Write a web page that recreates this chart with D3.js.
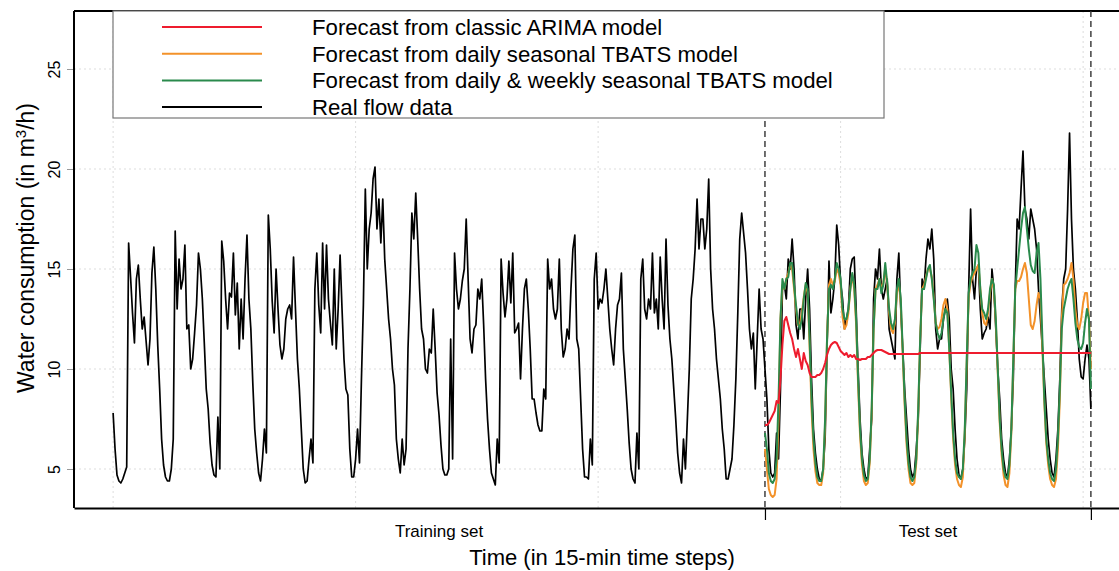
<!DOCTYPE html>
<html><head><meta charset="utf-8">
<script src="https://cdn.jsdelivr.net/npm/d3@7"></script>
<style>
body{margin:0;background:#fff}
svg{display:block}
text{font-family:"Liberation Sans",Arial,Helvetica,sans-serif;fill:#000}
</style>
</head><body>
<svg id="chart" width="1119" height="571"></svg>
<script>
// one sample per hour = 4 time steps of 15 min
const stepsPerSample = 4;

// Real flow, training period (hours 0..335)
const trainingFlow = [
 7.8,6.0,4.7,4.4,4.3,4.5,4.8,5.1,16.3,14.6,12.8,11.3,14.5,15.2,13.5,12.0,12.6,11.4,10.2,11.5,14.8,16.1,14.0,11.2,
 9.0,6.5,5.2,4.6,4.4,4.4,5.0,6.5,16.9,13.0,15.5,14.0,14.5,16.2,12.0,12.2,10.0,10.5,11.8,13.2,15.8,15.0,13.5,11.3,
 9.0,8.0,6.3,5.2,4.7,4.6,7.6,5.0,16.4,15.4,13.5,12.0,13.8,13.6,15.8,12.7,14.3,11.0,13.5,11.5,14.5,16.7,13.5,12.0,
 9.3,7.0,5.8,4.8,4.4,5.5,7.0,5.8,17.7,16.0,13.4,11.8,15.0,13.0,11.2,10.5,11.0,12.5,13.0,13.2,12.5,15.6,13.0,10.5,
 9.0,7.0,5.0,4.3,4.4,5.5,6.5,5.3,14.0,15.8,13.2,11.8,16.3,13.0,16.2,13.5,12.3,11.2,15.0,11.0,13.0,15.7,13.0,10.5,
 9.0,8.7,6.0,4.6,4.6,5.5,7.0,5.3,9.5,13.2,19.0,15.0,17.0,17.8,19.5,20.1,17.0,18.5,16.3,18.5,15.5,14.0,12.5,11.5,
 10.0,9.2,6.5,5.5,4.8,6.5,5.2,6.0,11.0,14.0,17.8,16.5,18.8,16.5,14.0,12.0,11.5,10.0,9.8,11.0,10.8,13.0,11.0,8.8,
 7.7,6.2,5.0,4.7,4.7,5.0,11.5,5.5,15.8,14.0,13.0,13.5,14.4,15.0,17.5,14.5,11.5,10.8,12.0,12.2,14.0,13.5,14.5,12.2,
 9.5,7.5,6.0,4.8,4.5,4.2,6.5,5.3,15.5,13.8,12.6,13.5,15.4,13.3,15.8,11.8,12.0,12.3,9.5,12.0,14.0,14.5,13.0,11.0,
 8.5,8.5,7.8,7.2,6.9,6.9,9.0,8.5,15.5,14.0,14.5,13.0,12.5,13.0,15.5,12.0,10.6,11.0,12.0,11.5,14.0,16.0,16.7,11.5,
 11.0,8.5,6.0,4.6,4.6,4.5,6.5,5.2,14.5,15.8,13.0,13.5,13.3,14.0,15.0,13.5,12.0,11.0,10.2,12.0,13.2,13.5,14.8,11.0,
 9.5,8.0,6.3,5.0,4.5,4.3,6.8,5.0,14.5,15.5,13.0,12.5,13.5,13.0,15.8,12.8,13.5,12.0,15.6,13.5,12.0,16.5,13.2,11.5,
 10.5,9.0,7.5,5.8,4.8,4.3,6.5,5.0,7.5,10.0,13.5,14.5,16.0,18.5,16.0,17.5,17.5,16.0,17.0,19.5,15.0,13.0,12.0,10.5,
 9.5,8.5,7.0,6.0,4.5,4.5,5.0,5.5,7.2,9.5,12.8,16.5,17.8,16.8,15.8,14.0,12.0,11.0,11.8,9.0,11.5,14.0,12.0,11.5
];

// Test period starts at hour 336 (time step 1344)
const testStartHour = 336;

// Real flow, test period (hours 336..504)
const testFlow = [
 10.0,8.5,6.0,4.8,4.6,4.8,6.8,5.5,
 9.0,14.0,14.2,13.5,15.5,15.0,16.5,15.0,12.2,11.5,13.0,13.0,11.5,13.5,15.0,13.0,9.5,7.0,5.8,5.0,4.5,4.4,5.0,6.5,
 11.0,15.4,12.8,13.5,14.5,17.2,16.2,14.3,13.5,12.0,12.5,13.0,15.0,15.5,15.6,13.0,10.0,7.5,5.8,5.0,4.5,4.6,6.0,7.5,
 13.5,15.0,14.5,16.0,14.0,13.5,14.0,14.5,12.0,11.5,11.0,10.5,14.5,15.8,13.0,11.0,9.0,7.5,6.0,5.0,4.6,4.8,6.0,7.5,
 11.0,14.5,14.0,15.5,16.5,16.0,17.0,15.5,12.0,11.0,11.5,11.5,12.5,13.0,13.5,12.5,10.0,9.0,7.0,5.5,4.7,4.5,5.0,6.5,
 9.0,14.0,18.0,14.5,13.5,15.0,15.2,13.0,11.5,11.8,12.0,12.6,12.0,15.0,14.0,12.0,10.0,8.5,6.5,5.5,4.8,4.6,5.5,7.0,
 9.5,14.0,17.5,17.0,19.0,20.9,18.0,17.5,16.5,18.0,17.5,17.0,16.0,14.0,12.5,11.0,9.5,8.0,6.5,5.5,4.8,4.6,5.5,7.0,
 9.5,13.0,14.5,15.0,18.0,21.8,17.5,15.0,14.0,12.5,10.5,9.6,9.5,10.5,11.2,10.5,8.0
];

// Forecast from classic ARIMA model (hours 336..504)
const arimaForecast = [
 7.2,7.2,7.3,7.5,7.7,7.9,8.4,8.3,
 9.5,11.2,12.4,12.6,12.2,11.8,11.5,11.0,10.6,11.0,10.5,10.0,10.8,10.4,10.2,9.8,9.6,9.6,9.6,9.7,9.7,9.8,10.0,10.3,
 10.7,11.0,11.2,11.3,11.35,11.3,11.1,10.9,10.8,10.7,10.8,10.6,10.7,10.6,10.7,10.5,10.5,10.45,10.5,10.5,10.5,10.6,10.6,10.7,
 10.8,10.9,10.95,10.95,10.95,10.9,10.85,10.8,10.75,10.75,10.75,10.75,10.75,10.75,10.75,10.75,10.75,10.75,10.75,10.75,10.75,10.75,10.75,10.75,
 10.8,10.8,10.8,10.8,10.8,10.8,10.8,10.8,10.8,10.8,10.8,10.8,10.8,10.8,10.8,10.8,10.8,10.8,10.8,10.8,10.8,10.8,10.8,10.8,
 10.8,10.8,10.8,10.8,10.8,10.8,10.8,10.8,10.8,10.8,10.8,10.8,10.8,10.8,10.8,10.8,10.8,10.8,10.8,10.8,10.8,10.8,10.8,10.8,
 10.8,10.8,10.8,10.8,10.8,10.8,10.8,10.8,10.8,10.8,10.8,10.8,10.8,10.8,10.8,10.8,10.8,10.8,10.8,10.8,10.8,10.8,10.8,10.8,
 10.8,10.8,10.8,10.8,10.8,10.8,10.8,10.8,10.8,10.8,10.8,10.8,10.8,10.8,10.8,10.8,10.8
];

// Forecast from daily seasonal TBATS model (hours 336..504)
const tbatsDailyForecast = [
 6.0,5.0,4.0,3.7,3.6,3.7,4.5,7.5,
 12.5,14.2,14.0,14.5,14.8,15.2,15.0,14.0,13.0,12.2,12.2,12.8,13.6,14.2,13.8,11.2,8.0,6.0,4.9,4.3,4.2,4.2,4.8,7.2,
 11.5,14.2,14.5,14.2,14.4,15.0,14.8,14.2,12.6,12.0,12.2,12.8,14.0,14.7,14.0,12.2,9.2,6.7,5.2,4.4,4.2,4.3,5.3,7.8,
 12.0,14.0,14.2,14.5,14.0,14.3,15.0,14.2,12.8,12.0,11.8,12.3,13.8,14.3,13.3,10.8,8.2,6.2,5.0,4.3,4.2,4.3,5.3,7.8,
 11.5,14.0,14.2,14.6,15.0,15.0,14.6,13.6,12.3,12.0,12.1,12.5,13.2,13.5,13.0,11.0,8.6,6.5,5.2,4.5,4.2,4.1,4.6,6.8,
 10.3,13.6,14.3,14.6,14.8,15.0,15.2,14.0,12.8,12.3,12.2,12.8,13.8,14.5,14.0,12.3,9.8,7.3,5.7,4.7,4.2,4.1,4.8,6.8,
 10.3,14.0,14.4,14.4,14.6,15.0,15.3,14.8,13.5,12.2,12.0,12.4,13.2,13.8,13.5,11.0,8.3,6.3,5.2,4.5,4.2,4.1,4.5,6.0,
 8.5,12.5,14.2,14.3,14.5,14.8,15.3,14.5,13.0,12.2,12.0,12.5,13.3,13.8,13.8,12.5,10.0
];

// Forecast from daily & weekly seasonal TBATS model (hours 336..504)
const tbatsWeeklyForecast = [
 6.8,6.0,4.8,4.4,4.3,4.5,5.5,8.5,
 12.5,14.5,14.0,14.5,14.6,15.3,15.3,14.2,13.2,12.3,12.0,12.5,13.5,14.3,14.0,11.5,8.5,6.5,5.3,4.6,4.4,4.4,5.0,7.5,
 11.5,14.0,14.2,14.0,14.5,15.3,15.0,14.5,13.0,12.5,12.5,13.0,14.0,14.8,14.2,12.5,9.5,7.0,5.5,4.7,4.4,4.5,5.5,8.0,
 12.0,14.0,14.0,14.5,13.8,14.2,15.3,14.3,13.0,12.3,12.0,12.5,14.0,14.5,13.5,11.0,8.5,6.5,5.3,4.6,4.4,4.6,5.5,8.0,
 11.5,14.0,14.0,14.5,15.0,15.2,14.5,13.5,12.3,11.8,11.5,11.8,12.5,13.0,12.8,11.0,8.8,6.8,5.5,4.8,4.6,4.5,5.0,7.0,
 10.5,13.8,14.5,14.8,15.0,16.2,15.8,14.0,13.0,12.8,12.5,13.0,14.0,14.5,14.2,12.5,10.0,7.5,6.0,5.0,4.6,4.5,5.2,7.0,
 10.5,14.0,15.0,16.0,17.0,17.8,18.1,17.0,16.0,15.2,14.9,14.8,15.8,16.3,14.5,11.5,8.5,6.5,5.5,4.8,4.5,4.4,5.0,6.5,
 9.0,12.0,13.0,13.5,14.0,14.3,14.5,13.5,12.3,11.5,11.1,11.0,11.3,12.3,13.0,12.5,9.0
];

const yTicks = [5, 10, 15, 20, 25];
const xGridSteps = [0, 500, 1000, 1500, 2000];
const splitSteps = [1344, 2016];
const setLabels = ["Training set", "Test set"];
const setLabelSteps = [672, 1680];
const legendLabels = [
  "Forecast from classic ARIMA model",
  "Forecast from daily seasonal TBATS model",
  "Forecast from daily & weekly seasonal TBATS model",
  "Real flow data"
];
const legendColors = ["#ee1c2e", "#f3922a", "#2a8a4c", "#000000"];

// ---------------------------------------------------------------
const svg = d3.select("#chart");
const L = 74, R = 1130, T = 11, B = 508;
const x = d3.scaleLinear().domain([-80.64, 2096.64]).range([L, R]);
const y = d3.scaleLinear().domain([3.05, 27.9]).range([B, T]);

svg.append("defs").append("clipPath").attr("id", "clip")
  .append("rect").attr("x", L).attr("y", T).attr("width", R - L).attr("height", B - T);

// grid
const grid = svg.append("g");
grid.selectAll("line.h").data(yTicks).join("line")
  .attr("x1", L).attr("x2", R).attr("y1", d => y(d)).attr("y2", d => y(d))
  .attr("stroke", "#dddddd").attr("stroke-width", 1).attr("stroke-dasharray", "2,3");
grid.selectAll("line.v").data(xGridSteps).join("line")
  .attr("x1", d => x(d)).attr("x2", d => x(d)).attr("y1", T).attr("y2", B)
  .attr("stroke", "#dddddd").attr("stroke-width", 1).attr("stroke-dasharray", "2,3");

// y axis
const yAxis = svg.append("g").attr("transform", `translate(${L},0)`)
  .call(d3.axisLeft(y).tickValues(yTicks).tickSize(7).tickSizeOuter(0));
yAxis.select(".domain").remove();
yAxis.selectAll(".tick line").attr("stroke", "#999");
yAxis.selectAll(".tick text")
  .attr("x", 0).attr("dy", 0)
  .attr("transform", "translate(-14,0) rotate(-90)")
  .attr("text-anchor", "middle")
  .style("font-size", "16px").style("font-family", "'Liberation Sans',Arial,sans-serif")
  .attr("fill", "#000");

// x axis
const xAxis = svg.append("g").attr("transform", `translate(0,${B})`)
  .call(d3.axisBottom(x).tickValues(splitSteps).tickSize(12).tickSizeOuter(0).tickFormat(""));
xAxis.select(".domain").attr("stroke", "#000").attr("stroke-width", 2);
xAxis.selectAll(".tick line").attr("stroke", "#000").attr("stroke-width", 1.2);

svg.append("g").selectAll("text").data(setLabels).join("text")
  .attr("x", (d, i) => x(setLabelSteps[i])).attr("y", 537)
  .attr("text-anchor", "middle").style("font-size", "17px").text(d => d);

// box top & left
svg.append("line").attr("x1", L).attr("x2", R).attr("y1", T).attr("y2", T)
  .attr("stroke", "#000").attr("stroke-width", 2);
svg.append("line").attr("x1", L).attr("x2", L).attr("y1", T).attr("y2", B)
  .attr("stroke", "#000").attr("stroke-width", 2);

// dashed split lines
svg.append("g").selectAll("line").data(splitSteps).join("line")
  .attr("x1", d => x(d)).attr("x2", d => x(d)).attr("y1", T).attr("y2", B)
  .attr("stroke", "#333").attr("stroke-width", 1.4).attr("stroke-dasharray", "6,4");

// series
const lineFrom = (startHour) => d3.line()
  .x((d, i) => x((startHour + i) * stepsPerSample))
  .y(d => y(d));
const plot = svg.append("g").attr("clip-path", "url(#clip)");
const realFlow = trainingFlow.concat(testFlow);
plot.append("path").datum(realFlow).attr("d", lineFrom(0))
  .attr("fill", "none").attr("stroke", legendColors[3]).attr("stroke-width", 1.7).attr("stroke-linejoin", "round");
plot.append("path").datum(tbatsDailyForecast).attr("d", lineFrom(testStartHour))
  .attr("fill", "none").attr("stroke", legendColors[1]).attr("stroke-width", 2).attr("stroke-linejoin", "round");
plot.append("path").datum(tbatsWeeklyForecast).attr("d", lineFrom(testStartHour))
  .attr("fill", "none").attr("stroke", legendColors[2]).attr("stroke-width", 2).attr("stroke-linejoin", "round");
plot.append("path").datum(arimaForecast).attr("d", lineFrom(testStartHour))
  .attr("fill", "none").attr("stroke", legendColors[0]).attr("stroke-width", 2).attr("stroke-linejoin", "round");

// legend
const lg = svg.append("g");
lg.append("rect").attr("x", 113).attr("y", T).attr("width", 771).attr("height", 107)
  .attr("fill", "#fff").attr("stroke", "#777").attr("stroke-width", 1.2);
const rows = lg.selectAll("g.row").data(legendLabels).join("g")
  .attr("transform", (d, i) => `translate(0,${27 + i * 26.7})`);
rows.append("line").attr("x1", 162).attr("x2", 262).attr("y1", 0).attr("y2", 0)
  .attr("stroke", (d, i) => legendColors[i]).attr("stroke-width", 2);
rows.append("text").attr("x", 312).attr("dy", "0.36em").style("font-size", "22.2px").text(d => d);

// axis titles
svg.append("text").attr("x", 602).attr("y", 565).attr("text-anchor", "middle")
  .style("font-size", "22px").text("Time (in 15-min time steps)");
const yt = svg.append("text").attr("transform", "translate(34,248) rotate(-90)")
  .attr("text-anchor", "middle").style("font-size", "23px");
yt.append("tspan").text("Water consumption (in m");
yt.append("tspan").attr("baseline-shift", "super").style("font-size", "15px").text("3");
yt.append("tspan").text("/h)");
</script>
</body></html>
